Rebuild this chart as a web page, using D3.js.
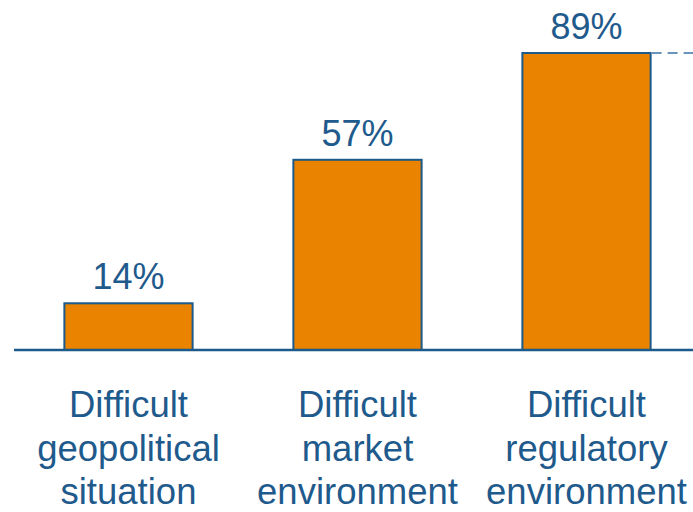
<!DOCTYPE html>
<html>
<head>
<meta charset="utf-8">
<script src="https://cdn.jsdelivr.net/npm/d3@7/dist/d3.min.js"></script>
<style>
  html, body { margin: 0; padding: 0; background: #fff; }
  svg { display: block; }
</style>
</head>
<body>
<svg id="chart" width="693" height="512"></svg>
<script>
// Share of respondents naming each obstacle
const categories = [
  ["Difficult", "geopolitical", "situation"],
  ["Difficult", "market", "environment"],
  ["Difficult", "regulatory", "environment"]
];
const values = [14, 57, 89];
const valueLabels = ["14%", "57%", "89%"];

const svg = d3.select("#chart");
const font = "'Liberation Sans', Arial, sans-serif";
const textColor = "#1f5a8c";
const strokeColor = "#1b5a8a";
const barFill = "#e98300";

const keys = categories.map((c, i) => i);
const x = d3.scaleBand()
  .domain(keys)
  .range([14, 701])
  .paddingInner(0.44)
  .paddingOuter(0.22);

const y = d3.scaleLinear()
  .domain([0, 100])
  .range([350, 16.3]);

// bars
svg.append("g").selectAll("rect")
  .data(values)
  .join("rect")
  .attr("x", (d, i) => x(i))
  .attr("y", d => y(d))
  .attr("width", x.bandwidth())
  .attr("height", d => y(0) - y(d))
  .attr("fill", barFill)
  .attr("stroke", strokeColor)
  .attr("stroke-width", 2);

// dashed reference line at the highest value
const maxI = values.indexOf(d3.max(values));
svg.append("line")
  .attr("x1", x(maxI) + x.bandwidth() + 1)
  .attr("x2", 693)
  .attr("y1", y(values[maxI]))
  .attr("y2", y(values[maxI]))
  .attr("stroke", "#6a94ba")
  .attr("stroke-width", 2)
  .attr("stroke-dasharray", "10,6");

// baseline
svg.append("line")
  .attr("x1", x.range()[0])
  .attr("x2", x.range()[1])
  .attr("y1", y(0))
  .attr("y2", y(0))
  .attr("stroke", strokeColor)
  .attr("stroke-width", 2.5);

// value labels
svg.append("g").selectAll("text")
  .data(values)
  .join("text")
  .attr("x", (d, i) => x(i) + x.bandwidth() / 2)
  .attr("y", d => y(d) - 14)
  .attr("text-anchor", "middle")
  .attr("font-family", font)
  .attr("font-size", 36)
  .attr("fill", textColor)
  .text((d, i) => valueLabels[i]);

// category labels
const cat = svg.append("g").selectAll("text")
  .data(categories)
  .join("text")
  .attr("text-anchor", "middle")
  .attr("font-family", font)
  .attr("font-size", 36.5)
  .attr("fill", textColor);

cat.selectAll("tspan")
  .data((d, i) => d.map(line => ({ line, i })))
  .join("tspan")
  .attr("x", d => x(d.i) + x.bandwidth() / 2)
  .attr("y", (d, j) => 417 + j * 43.5)
  .text(d => d.line);
</script>
</body>
</html>
